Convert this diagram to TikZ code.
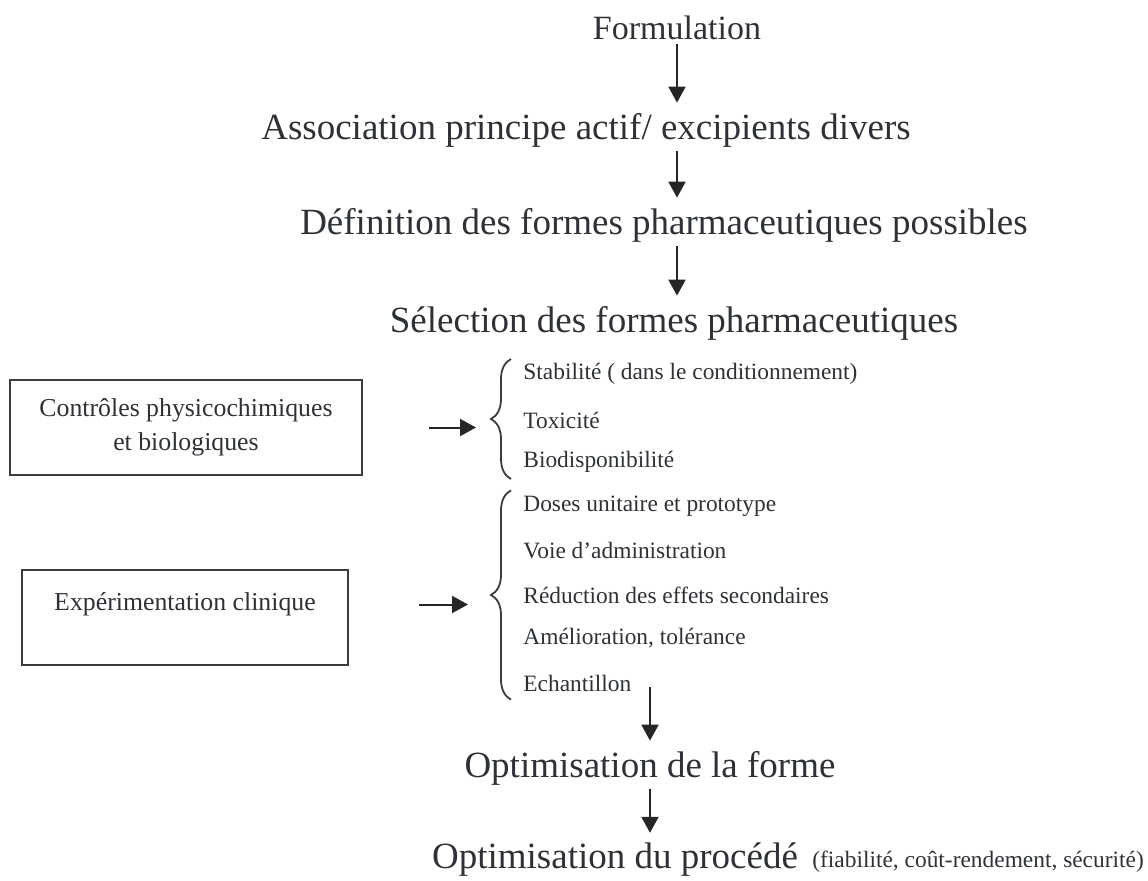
\documentclass[tikz,border=0pt]{standalone}
\usepackage{fontspec}
\setmainfont{Liberation Serif}
\usepackage{tikz}
\usetikzlibrary{arrows.meta,decorations.pathreplacing}
\definecolor{ink}{HTML}{2E3236}
\definecolor{framegray}{HTML}{3C3C3C}
\newcommand\stepfont{\fontsize{18.5}{22}\selectfont}
\newcommand\listfont{\fontsize{11.7}{14}\selectfont}
\newcommand\boxfont{\fontsize{12.9}{17}\selectfont}

\begin{document}
\begin{tikzpicture}[x=0.5pt,y=-0.5pt,
  stage/.style={font=\stepfont,text=ink,inner sep=0pt},
  entry/.style={font=\listfont,text=ink,inner sep=0pt,anchor=west},
  frame/.style={draw=framegray,line width=1pt,font=\boxfont,text=ink,align=center,minimum height=47.5pt},
  flow/.style={draw=black!85,line width=1pt,-{Triangle[length=8pt,width=8.5pt]},shorten <=2pt,shorten >=5pt},
  brace/.style={draw=framegray,line width=0.9pt,decorate,decoration={brace,amplitude=10pt}}]
\useasboundingbox (0,0) rectangle (1148,880);
% main chain
\node[stage,font=\fontsize{17}{20}\selectfont] (form) at (677,28) {Formulation};
\node[stage] (assoc) at (586,130) {Association principe actif/ excipients divers};
\node[stage] (defi) at (664,225) {Définition des formes pharmaceutiques possibles};
\node[stage] (selec) at (674,323) {Sélection des formes pharmaceutiques};
\draw[flow] (form.south) -- (form.south |- assoc.north);
\draw[flow] (assoc.south -| form.south) -- (defi.north -| form.south);
\draw[flow] (defi.south -| form.south) -- (selec.north -| form.south);
% controls
\node[frame,minimum width=176pt] (ctrl) at (186,427.5) {Contrôles physicochimiques\\et biologiques};
\node[entry] (stab) at (523,374) {Stabilité ( dans le conditionnement)};
\node[entry] (tox) at (523,420) {Toxicité};
\node[entry] (bio) at (523,462) {Biodisponibilité};
\draw[brace] ([xshift=-6pt,yshift=-3pt]bio.south west) -- ([xshift=-6pt,yshift=2pt]stab.north west);
\draw[flow,shorten <=33pt,shorten >=23.5pt] (ctrl.east) -- (ctrl.east -| tox.west);
% clinical
\node[frame,minimum width=163pt,text depth=16pt] (exper) at (185,617.5) {Expérimentation clinique};
\node[entry] (doses) at (523,506) {Doses unitaire et prototype};
\node[entry] (voie) at (523,551) {Voie d’administration};
\node[entry] (reduc) at (523,595) {Réduction des effets secondaires};
\node[entry] (amel) at (523,638) {Amélioration, tolérance};
\node[entry] (echan) at (523,683) {Echantillon};
\draw[brace] ([xshift=-6pt,yshift=-4pt]echan.south west) -- ([xshift=-6pt,yshift=2.5pt]doses.north west);
\draw[flow,shorten <=35pt,shorten >=27.5pt] ([yshift=6.5pt]exper.east) -- ([yshift=6.5pt]exper.east -| reduc.west);
% optimisation
\node[stage] (optf) at (650,768) {Optimisation de la forme};
\node[stage] (optp) at (615,860) {Optimisation du procédé};
\node[entry] (crit) at (812,862) {(fiabilité, coût-rendement, sécurité)};
\draw[flow,shorten <=-1pt] ([yshift=-3pt]optf.north |- echan.center) -- (optf.north);
\draw[flow] (optf.south) -- (optf.south |- optp.north);
\end{tikzpicture}
\end{document}
